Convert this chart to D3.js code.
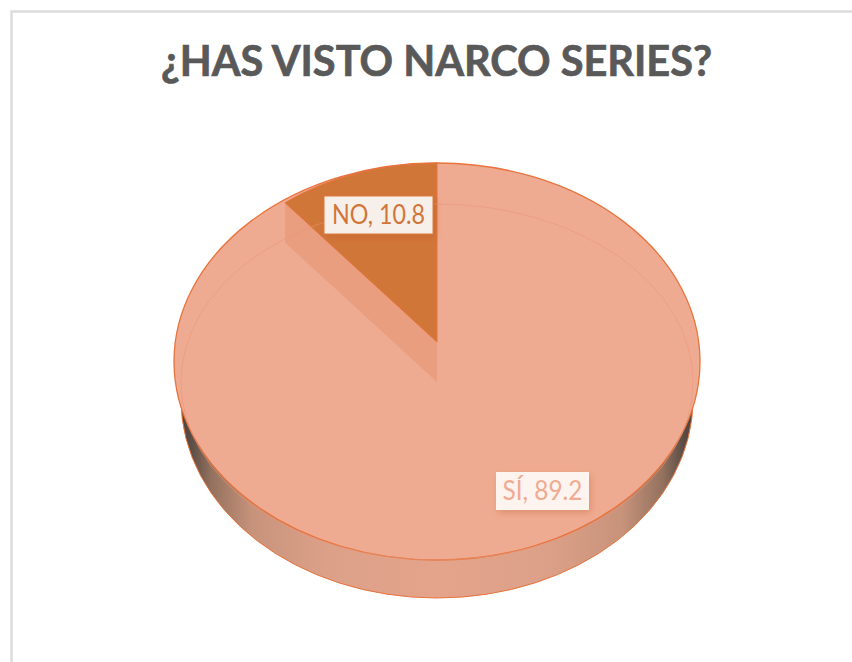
<!DOCTYPE html>
<html>
<head>
<meta charset="utf-8">
<script src="https://cdn.jsdelivr.net/npm/d3@7"></script>
<style>
  html, body { margin: 0; padding: 0; background: #fff; }
  svg { display: block; }
  .title { font-family: Lato, sans-serif; font-weight: 700; font-size: 42px; fill: #595959; stroke: #595959; stroke-width: 0.7px; text-anchor: middle; }
  .lbl { font-family: Lato, sans-serif; font-size: 26px; text-anchor: middle; }
</style>
</head>
<body>
<div id="chart"></div>
<script>
const categories = ["SÍ", "NO"];
const values = [89.2, 10.8];
const chartTitle = "¿HAS VISTO NARCO SERIES?";

const width = 852, height = 662;
const cx = 437;

const svg = d3.select("#chart").append("svg")
  .attr("width", width)
  .attr("height", height);

const defs = svg.append("defs");

// side of the disc: dark at both ends, light in the middle
const grad = defs.append("linearGradient").attr("id", "side");
[[0, "#4a413c"], [0.02, "#5c4e46"], [0.06, "#94725f"], [0.14, "#c8937b"], [0.28, "#dca088"],
 [0.5, "#e4a48b"], [0.72, "#dca088"], [0.86, "#c8937b"], [0.94, "#94725f"], [0.98, "#5c4e46"], [1, "#4a413c"]]
  .forEach(s => grad.append("stop").attr("offset", s[0]).attr("stop-color", s[1]));

const shadow = defs.append("filter").attr("id", "shadow")
  .attr("x", "-20%").attr("y", "-30%").attr("width", "140%").attr("height", "170%");
shadow.append("feDropShadow")
  .attr("dx", 2).attr("dy", 3).attr("stdDeviation", 3)
  .attr("flood-color", "#b5562a").attr("flood-opacity", 0.3);

// chart frame, runs off the right and bottom of the picture
svg.append("path")
  .attr("d", `M11.5,${height} V11.5 H${width}`)
  .attr("fill", "none")
  .attr("stroke", "#dcdcdc")
  .attr("stroke-width", 2.5);

svg.append("text")
  .attr("class", "title")
  .attr("x", 436.5)
  .attr("y", 76)
  .attr("textLength", 551)
  .attr("lengthAdjust", "spacingAndGlyphs")
  .text(chartTitle);

const pie = d3.pie().sort(null);
const slices = pie(values);

// unit arcs, stretched into ellipses with a transform
const fullArc = d3.arc().innerRadius(0).outerRadius(1)({startAngle: 0, endAngle: 2 * Math.PI});
const wedgeArc = d3.arc().innerRadius(0).outerRadius(1);

function ellipse(cy, rx, ry) {
  return svg.append("path")
    .attr("d", fullArc)
    .attr("transform", `translate(${cx},${cy}) scale(${rx},${ry})`)
    .attr("vector-effect", "non-scaling-stroke");
}

const rimColor = "#e8733c";

// side
ellipse(399.5, 256, 198.5)
  .attr("fill", "url(#side)")
  .attr("stroke", rimColor)
  .attr("stroke-width", 1);

// top face
ellipse(361.5, 263, 198.5)
  .attr("fill", "#efab91")
  .attr("stroke", rimColor)
  .attr("stroke-width", 1.3);

// the NO slice and the wall it uncovers
const no = slices[1];
const apexY = 342, wedgeRx = 242, wedgeRy = 179, wallDepth = 40;
const rimX = cx + wedgeRx * Math.sin(no.startAngle);
const rimY = apexY - wedgeRy * Math.cos(no.startAngle);

svg.append("path")
  .attr("d", d3.line()([[cx, apexY], [rimX, rimY], [rimX, rimY + wallDepth], [cx, apexY + wallDepth]]))
  .attr("fill", "#e99e80");

svg.append("path")
  .attr("d", wedgeArc(no))
  .attr("transform", `translate(${cx},${apexY}) scale(${wedgeRx},${wedgeRy})`)
  .attr("vector-effect", "non-scaling-stroke")
  .attr("fill", "#d17639")
  .attr("stroke", rimColor)
  .attr("stroke-width", 1);

// faint ring of the top surface
ellipse(382, 256, 178)
  .attr("fill", "none")
  .attr("stroke", "#e8957a")
  .attr("stroke-opacity", 0.55)
  .attr("stroke-width", 1);

// labels
const labelBoxes = [
  {x: 496, y: 472, w: 93, h: 38, tw: 80, fill: "#fdf3ef", stroke: "none", color: "#f0ab90"},
  {x: 324, y: 196, w: 109, h: 38, tw: 93, fill: "#f7efe9", stroke: "#dd7a3e", color: "#d17639"}
];

slices.forEach((d, i) => {
  const b = labelBoxes[i];
  svg.append("rect")
    .attr("x", b.x).attr("y", b.y)
    .attr("width", b.w).attr("height", b.h)
    .attr("fill", b.fill)
    .attr("stroke", b.stroke)
    .attr("filter", "url(#shadow)");
  svg.append("text")
    .attr("class", "lbl")
    .attr("x", b.x + b.w / 2)
    .attr("y", b.y + 28)
    .attr("fill", b.color)
    .attr("textLength", b.tw)
    .attr("lengthAdjust", "spacingAndGlyphs")
    .text(categories[i] + ", " + d.value);
});
</script>
</body>
</html>
